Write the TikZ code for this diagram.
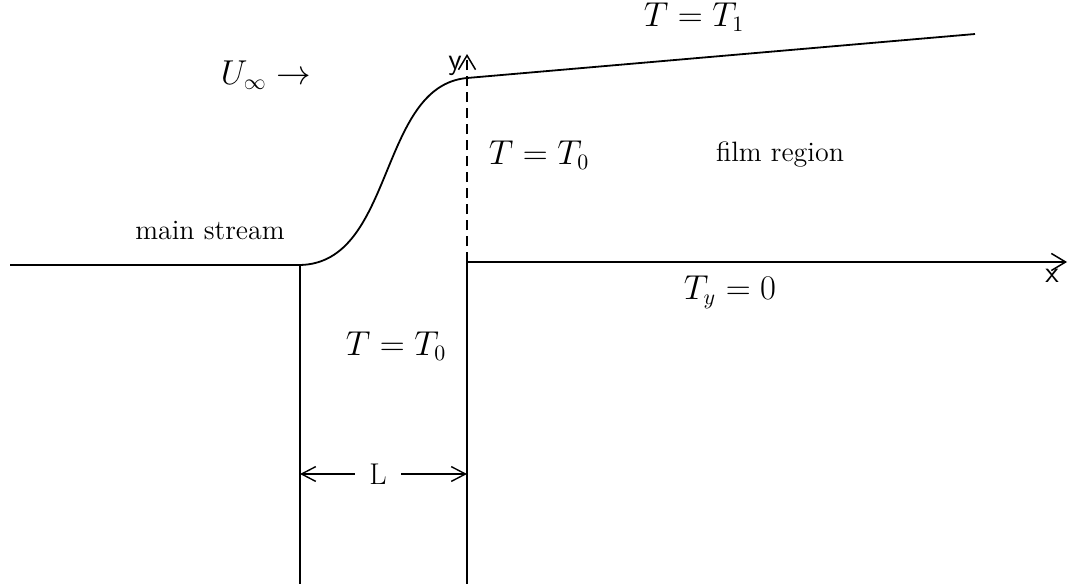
\documentclass[tikz,border=0pt]{standalone}
\usepackage{amsmath}
\usetikzlibrary{arrows.meta,positioning,calc}
\tikzset{wall/.style={line width=0.75pt},stream/.style={line width=0.9pt},axis/.style={line width=0.75pt,-{Straight Barb[length=2.5mm,width=3mm]}},dim/.style={line width=0.7pt,-{Straight Barb[length=2.5mm,width=2.6mm]}},lab/.style={font=\fontsize{14}{17}\selectfont,inner sep=1pt},mlab/.style={font=\fontsize{16}{19}\selectfont,inner sep=1pt},axlab/.style={font=\fontsize{15}{17}\selectfont\sffamily,inner sep=1pt}}

\begin{document}
\begin{tikzpicture}[x=0.5pt,y=-0.5pt]
\useasboundingbox (0,0) rectangle (1069,584);
% corners of the step
\coordinate (up) at (10,265);
\coordinate (lw) at (300,265);
\coordinate (lwb) at (300,584);
\coordinate (rw) at (467,262);
\coordinate (rwb) at (467,584);
\coordinate (top) at (467,78);
\coordinate (far) at (975,34);
\coordinate (xend) at (1067,262);
\coordinate (yend) at (467,54);
\coordinate (lwL) at (300,474);
\coordinate (rwL) at (467,474);
% free stream line
\draw[stream] (up) -- (lw) .. controls (395,263) and (378,86) .. (top) -- (far);
% walls and plate
\draw[wall] (lw) -- (lwb);
\draw[wall] (rw) -- (rwb);
\draw[axis] (rw) -- (xend);
\draw[axis,dash pattern=on 5pt off 3pt] (rw) -- (yend);
% labels
\node[axlab] (ylab) at (455,66) {y};
\node[axlab] (xlab) at (1052,276) {x};
\node[mlab] (uinf) at (266,75) {$U_\infty \rightarrow$};
\node[mlab] (tone) at (694,17) {$T = T_1$};
\node[mlab] (tfilm) at (539,155) {$T = T_0$};
\node[lab] (film) at (780,155) {film region};
\node[lab] (main) at (210,230) {main stream};
\node[mlab] (ty) at (730,292) {$T_y = 0$};
\node[mlab] (tgap) at (396,346) {$T = T_0$};
\node[lab,font=\fontsize{15}{18}\selectfont,inner sep=7pt] (L) at (378,474) {L};
\draw[dim] (L.west) -- (lwL);
\draw[dim] (L.east) -- (rwL);
\end{tikzpicture}
\end{document}
